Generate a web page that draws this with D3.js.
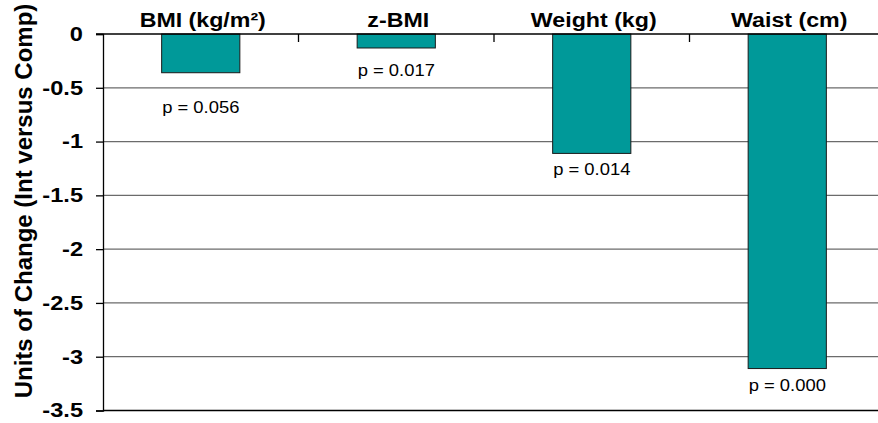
<!DOCTYPE html>
<html>
<head>
<meta charset="utf-8">
<script src="https://cdn.jsdelivr.net/npm/d3@7"></script>
<style>
  html, body { margin: 0; padding: 0; background: #fff; }
  svg { display: block; font-family: Arial, "Liberation Sans", Helvetica, sans-serif; }
</style>
</head>
<body>
<svg id="chart" width="878" height="423"></svg>
<script>
// ---- data ----
const categories = ["BMI (kg/m²)", "z-BMI", "Weight (kg)", "Waist (cm)"];
const changes = [-0.36, -0.13, -1.11, -3.11];
const pLabels = ["p = 0.056", "p = 0.017", "p = 0.014", "p = 0.000"];
const pLabelAt = [-0.73, -0.39, -1.31, -3.32];   // label anchor in data units
const yTicks = [0, -0.5, -1, -1.5, -2, -2.5, -3, -3.5];
const yTitle = "Units of Change (Int versus Comp)";

// ---- layout ----
const svg = d3.select("#chart");
const plotLeft = 103, plotRight = 885, plotTop = 34, plotBottom = 410.5;

const x = d3.scaleBand().domain(categories).range([plotLeft, plotRight])
  .paddingInner(0.6).paddingOuter(0.3);
const y = d3.scaleLinear().domain([0, -3.5]).range([plotTop, plotBottom]);

// gridlines
svg.append("g").selectAll("line")
  .data(yTicks.filter(v => v !== 0 && v !== -3.5))
  .join("line")
  .attr("x1", plotLeft).attr("x2", plotRight)
  .attr("y1", d => y(d)).attr("y2", d => y(d))
  .attr("stroke", "#6b6b6b").attr("stroke-width", 1.3);

// bottom border line
svg.append("line")
  .attr("x1", plotLeft).attr("x2", plotRight)
  .attr("y1", y(-3.5)).attr("y2", y(-3.5))
  .attr("stroke", "#000").attr("stroke-width", 1.3);

// y axis
const TSX = 1.18;
const yAxis = d3.axisLeft(y).tickValues(yTicks).tickSize(7).tickPadding(13)
  .tickFormat(d => d === 0 ? "0" : String(d));
const gy = svg.append("g").attr("transform", `translate(${plotLeft},0)`).call(yAxis);
gy.select(".domain").attr("stroke", "#000").attr("stroke-width", 1.3);
gy.selectAll(".tick line").attr("stroke", "#000").attr("stroke-width", 1.3);
gy.selectAll(".tick text")
  .attr("fill", "#000")
  .style("font-size", "20px").style("font-weight", "bold")
  .style("font-family", "Arial, 'Liberation Sans', sans-serif")
  .attr("transform", `scale(${TSX},1)`)
  .attr("x", -20 / TSX);

// bars
svg.append("g").selectAll("rect")
  .data(categories)
  .join("rect")
  .attr("x", d => x(d))
  .attr("width", x.bandwidth())
  .attr("y", (d, i) => y(Math.max(0, changes[i])))
  .attr("height", (d, i) => Math.abs(y(changes[i]) - y(0)))
  .attr("fill", "#009999")
  .attr("stroke", "#1a1a1a").attr("stroke-width", 1);

// zero line with category ticks
svg.append("line")
  .attr("x1", plotLeft - 7).attr("x2", plotRight)
  .attr("y1", y(0)).attr("y2", y(0))
  .attr("stroke", "#000").attr("stroke-width", 1.3);
const boundaries = categories.slice(1).map(c => x(c) - x.step() * x.paddingInner() / 2);
svg.append("g").selectAll("line")
  .data(boundaries)
  .join("line")
  .attr("x1", d => d).attr("x2", d => d)
  .attr("y1", y(0)).attr("y2", y(0) + 8)
  .attr("stroke", "#000").attr("stroke-width", 1.3);

// category labels at top
const CSX = 1.16;
svg.append("g").selectAll("text")
  .data(categories)
  .join("text")
  .attr("transform", d => `translate(${x(d) + x.bandwidth() / 2 + 2},27) scale(${CSX},1)`)
  .attr("text-anchor", "middle")
  .style("font-size", "20px").style("font-weight", "bold")
  .attr("fill", "#000")
  .text(d => d);

// p-value labels
const PSX = 1.15;
svg.append("g").selectAll("text")
  .data(categories)
  .join("text")
  .attr("transform", (d, i) => `translate(${x(d) + x.bandwidth() / 2},${y(pLabelAt[i])}) scale(${PSX},1)`)
  .attr("text-anchor", "middle")
  .style("font-size", "16px")
  .attr("fill", "#000")
  .text((d, i) => pLabels[i]);

// y title
svg.append("text")
  .attr("transform", `translate(32,201) rotate(-90)`)
  .attr("text-anchor", "middle")
  .style("font-size", "24px").style("font-weight", "bold")
  .attr("fill", "#000")
  .text(yTitle);
</script>
</body>
</html>
